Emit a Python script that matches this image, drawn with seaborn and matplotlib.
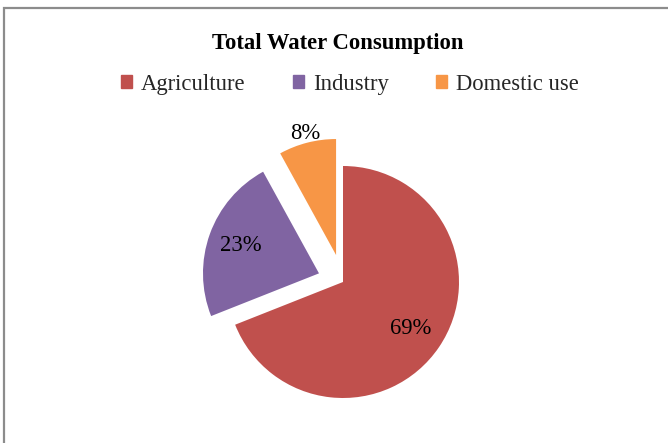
import numpy as np
import matplotlib
matplotlib.use("Agg")
import matplotlib.pyplot as plt
import matplotlib.patches as mpatches
import seaborn as sns

# ── Data ──────────────────────────────────────────────────────────────────────
categories = ["Agriculture", "Industry", "Domestic use"]
shares     = [69, 23, 8]
colors     = ["#C0504D", "#8064A2", "#F79646"]
explode    = [0.0, 0.22, 0.24]
label_dist = [0.71, 0.72, 1.08]
TITLE      = "Total Water Consumption"

# ── Style ─────────────────────────────────────────────────────────────────────
sns.set_theme(style="white")
sns.set_palette(colors)
plt.rcParams["font.family"] = ["Liberation Serif", "DejaVu Serif"]
FS = 16.3

fig = plt.figure(figsize=(6.68, 4.43), dpi=100)
fig.patch.set_facecolor("white")

# chart border (only top/left visible in the crop)
fig.add_artist(mpatches.Rectangle((3.5 / 668, -0.5), 2, 1.5 - 7.5 / 443,
                                  transform=fig.transFigure, fill=False,
                                  edgecolor="#8C8C8C", linewidth=1.6))

# ── Pie ───────────────────────────────────────────────────────────────────────
L = 1.3
S = 2 * L * 116
cx, cy = 343, 282
ax = fig.add_axes([(cx - S / 2) / 668, (443 - cy - S / 2) / 443, S / 668, S / 443])

wedges, _ = ax.pie(shares, colors=colors, explode=explode, startangle=90,
                   counterclock=False, wedgeprops=dict(linewidth=0))
ax.set_xlim(-L, L)
ax.set_ylim(-L, L)
ax.set_aspect("equal")
ax.axis("off")

for w, val, ex, d in zip(wedges, shares, explode, label_dist):
    mid = np.deg2rad((w.theta1 + w.theta2) / 2)
    ox, oy = ex * np.cos(mid), ex * np.sin(mid)
    ax.text(ox + d * np.cos(mid), oy + d * np.sin(mid), f"{val}%",
            ha="center", va="center", fontsize=FS, color="black")

# ── Title & legend ────────────────────────────────────────────────────────────
fig.text(338 / 668, 1 - 43 / 443, TITLE, ha="center", va="center",
         fontsize=FS, fontweight="bold", color="black")

handles = [mpatches.Patch(color=c, label=n) for c, n in zip(colors, categories)]
fig.legend(handles=handles, loc="center", bbox_to_anchor=(350 / 668, 1 - 84 / 443),
           ncol=3, frameon=False, fontsize=FS, handlelength=0.48, handleheight=0.48,
           handletextpad=0.4, columnspacing=2.1)

fig.savefig("out.png", dpi=100, facecolor="white")
